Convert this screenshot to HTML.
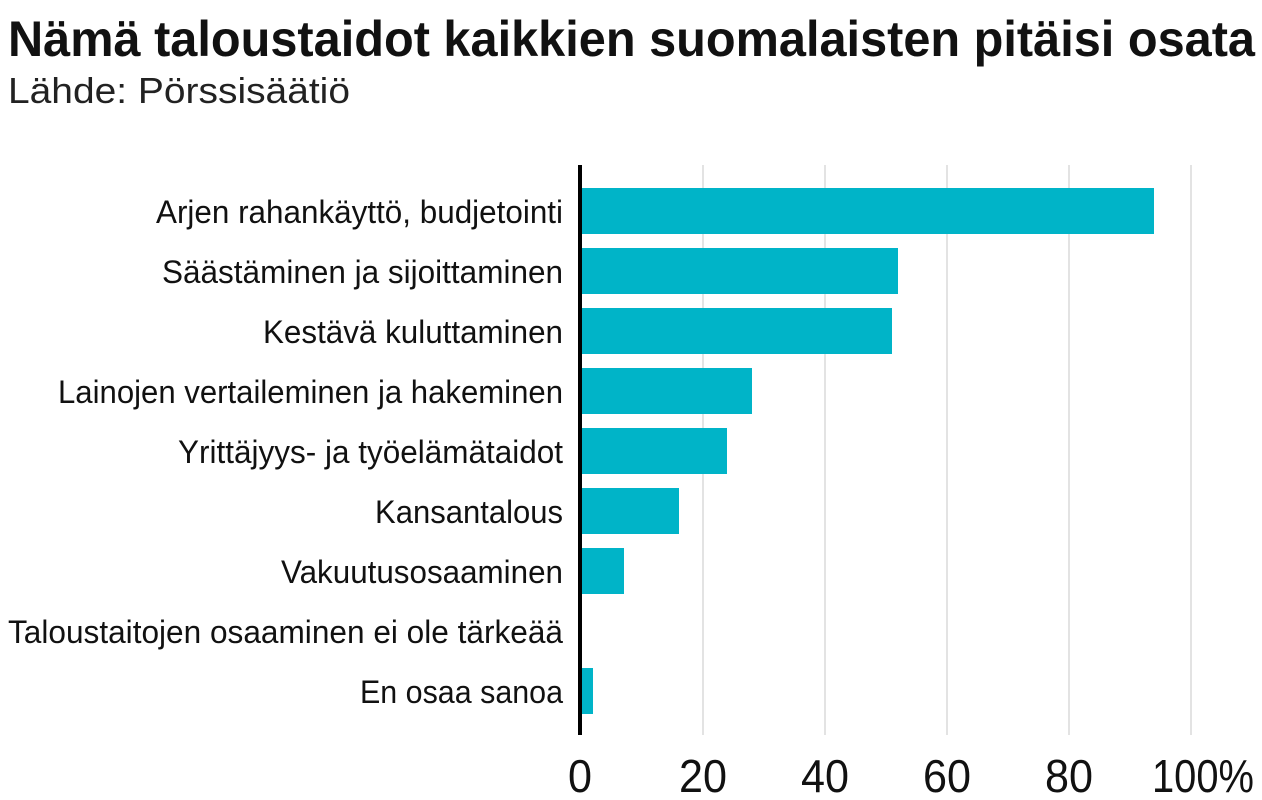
<!DOCTYPE html>
<html><head><meta charset="utf-8"><style>
body{margin:0;background:#fff;}
svg{display:block;font-family:"Liberation Sans Narrow","Liberation Sans",sans-serif;}
</style></head><body>
<svg width="1262" height="800" viewBox="0 0 1262 800">
<text x="8" y="56" font-size="50" font-weight="bold" fill="#111" textLength="1247" lengthAdjust="spacingAndGlyphs">Nämä taloustaidot kaikkien suomalaisten pitäisi osata</text>
<text x="8" y="103" font-size="36" fill="#222" textLength="342" lengthAdjust="spacingAndGlyphs">Lähde: Pörssisäätiö</text>
<g stroke="#e3e3e3" stroke-width="2">
<line x1="703" y1="165" x2="703" y2="735"/>
<line x1="825" y1="165" x2="825" y2="735"/>
<line x1="947" y1="165" x2="947" y2="735"/>
<line x1="1069" y1="165" x2="1069" y2="735"/>
<line x1="1191" y1="165" x2="1191" y2="735"/>
</g>
<g fill="#00b4c8">
<rect x="581" y="188" width="573" height="46"/>
<rect x="581" y="248" width="317" height="46"/>
<rect x="581" y="308" width="311" height="46"/>
<rect x="581" y="368" width="171" height="46"/>
<rect x="581" y="428" width="146" height="46"/>
<rect x="581" y="488" width="98" height="46"/>
<rect x="581" y="548" width="43" height="46"/>
<rect x="581" y="668" width="12" height="46"/>
</g>
<line x1="580" y1="165" x2="580" y2="735" stroke="#000" stroke-width="4"/>
<g font-size="32" fill="#111" text-anchor="end">
<text x="563" y="223" textLength="407" lengthAdjust="spacingAndGlyphs">Arjen rahankäyttö, budjetointi</text>
<text x="563" y="283" textLength="401" lengthAdjust="spacingAndGlyphs">Säästäminen ja sijoittaminen</text>
<text x="563" y="343" textLength="300" lengthAdjust="spacingAndGlyphs">Kestävä kuluttaminen</text>
<text x="563" y="403" textLength="505" lengthAdjust="spacingAndGlyphs">Lainojen vertaileminen ja hakeminen</text>
<text x="563" y="463" textLength="385" lengthAdjust="spacingAndGlyphs">Yrittäjyys- ja työelämätaidot</text>
<text x="563" y="523" textLength="188" lengthAdjust="spacingAndGlyphs">Kansantalous</text>
<text x="563" y="583" textLength="282" lengthAdjust="spacingAndGlyphs">Vakuutusosaaminen</text>
<text x="563" y="643" textLength="555" lengthAdjust="spacingAndGlyphs">Taloustaitojen osaaminen ei ole tärkeää</text>
<text x="563" y="703" textLength="203" lengthAdjust="spacingAndGlyphs">En osaa sanoa</text>
</g>
<g font-size="46" fill="#111" text-anchor="middle">
<text x="580" y="792" textLength="24" lengthAdjust="spacingAndGlyphs">0</text>
<text x="703" y="792" textLength="48" lengthAdjust="spacingAndGlyphs">20</text>
<text x="825" y="792" textLength="48" lengthAdjust="spacingAndGlyphs">40</text>
<text x="947" y="792" textLength="48" lengthAdjust="spacingAndGlyphs">60</text>
<text x="1069" y="792" textLength="48" lengthAdjust="spacingAndGlyphs">80</text>
<text x="1203" y="792" textLength="102" lengthAdjust="spacingAndGlyphs">100%</text>
</g>
</svg>
</body></html>
